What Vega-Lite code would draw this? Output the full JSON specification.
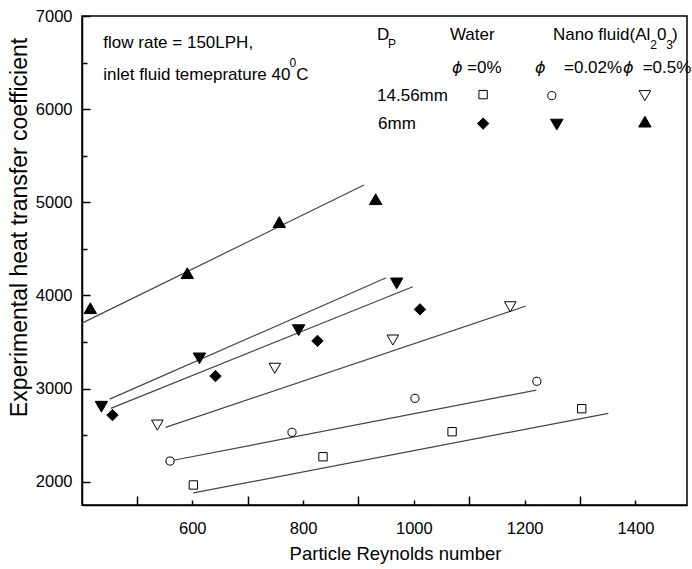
{
  "$schema": "https://vega.github.io/schema/vega-lite/v6.json",
  "width": 605,
  "height": 489,
  "autosize": {"type": "none"},
  "padding": {"left": 82, "top": 16, "right": 5, "bottom": 64},
  "background": "white",
  "config": {
    "font": "Liberation Sans",
    "view": {"stroke": "black", "strokeWidth": 1.5},
    "axis": {
      "domainColor": "black", "domainWidth": 1.5,
      "tickColor": "black", "tickWidth": 1.5,
      "labelColor": "black", "labelFontSize": 16.5, "labelFont": "Liberation Sans",
      "titleColor": "black", "titleFont": "Liberation Sans", "titleFontWeight": "normal",
      "grid": false
    }
  },
  "datasets": {
    "points": [
      {"series": "Water 14.56mm", "x": 602, "y": 1965},
      {"series": "Water 14.56mm", "x": 836, "y": 2268},
      {"series": "Water 14.56mm", "x": 1069, "y": 2537},
      {"series": "Water 14.56mm", "x": 1303, "y": 2784},
      {"series": "0.02% 14.56mm", "x": 560, "y": 2222},
      {"series": "0.02% 14.56mm", "x": 780, "y": 2530},
      {"series": "0.02% 14.56mm", "x": 1002, "y": 2895},
      {"series": "0.02% 14.56mm", "x": 1222, "y": 3078},
      {"series": "0.5% 14.56mm", "x": 537, "y": 2608},
      {"series": "0.5% 14.56mm", "x": 749, "y": 3218},
      {"series": "0.5% 14.56mm", "x": 962, "y": 3521},
      {"series": "0.5% 14.56mm", "x": 1174, "y": 3878},
      {"series": "Water 6mm", "x": 456, "y": 2715},
      {"series": "Water 6mm", "x": 642, "y": 3134},
      {"series": "Water 6mm", "x": 826, "y": 3512},
      {"series": "Water 6mm", "x": 1011, "y": 3850},
      {"series": "0.02% 6mm", "x": 436, "y": 2805},
      {"series": "0.02% 6mm", "x": 613, "y": 3324},
      {"series": "0.02% 6mm", "x": 792, "y": 3627},
      {"series": "0.02% 6mm", "x": 969, "y": 4129},
      {"series": "0.5% 6mm", "x": 416, "y": 3863},
      {"series": "0.5% 6mm", "x": 591, "y": 4239},
      {"series": "0.5% 6mm", "x": 757, "y": 4787},
      {"series": "0.5% 6mm", "x": 931, "y": 5033},
      {"series": "Water 14.56mm", "x": 1125, "y": 6156},
      {"series": "0.02% 14.56mm", "x": 1249, "y": 6145},
      {"series": "0.5% 14.56mm", "x": 1417, "y": 6145},
      {"series": "Water 6mm", "x": 1125, "y": 5845},
      {"series": "0.02% 6mm", "x": 1258, "y": 5834},
      {"series": "0.5% 6mm", "x": 1417, "y": 5866}
    ],
    "fits": [
      {"series": "Water 14.56mm", "x": 602, "y": 1880},
      {"series": "Water 14.56mm", "x": 1351, "y": 2734},
      {"series": "0.02% 14.56mm", "x": 552, "y": 2214},
      {"series": "0.02% 14.56mm", "x": 1221, "y": 2984},
      {"series": "0.5% 14.56mm", "x": 552, "y": 2583},
      {"series": "0.5% 14.56mm", "x": 1202, "y": 3886},
      {"series": "Water 6mm", "x": 453, "y": 2787},
      {"series": "Water 6mm", "x": 998, "y": 4093},
      {"series": "0.02% 6mm", "x": 451, "y": 2887},
      {"series": "0.02% 6mm", "x": 950, "y": 4189},
      {"series": "0.5% 6mm", "x": 401, "y": 3703},
      {"series": "0.5% 6mm", "x": 910, "y": 5185}
    ],
    "notes": [
      {"text": "flow rate = 150LPH,", "x": 439.5, "y": 6707},
      {"text": "inlet fluid temeprature 40", "x": 439.5, "y": 6364},
      {"text": "C", "x": 787.6, "y": 6364},
      {"text": "D", "x": 933.6, "y": 6793},
      {"text": "Water", "x": 1065, "y": 6793},
      {"text": "Nano fluid(Al", "x": 1251, "y": 6793},
      {"text": "0", "x": 1438.8, "y": 6793},
      {"text": ")", "x": 1466, "y": 6793},
      {"text": "=0%", "x": 1096, "y": 6439},
      {"text": "=0.02%", "x": 1271, "y": 6439},
      {"text": "=0.5%", "x": 1413, "y": 6439},
      {"text": "14.56mm", "x": 933.6, "y": 6145},
      {"text": "6mm", "x": 935.4, "y": 5845}
    ],
    "smalls": [
      {"text": "0", "x": 775.5, "y": 6493},
      {"text": "P", "x": 953.5, "y": 6696},
      {"text": "2", "x": 1426.6, "y": 6686},
      {"text": "3", "x": 1455.5, "y": 6686}
    ],
    "phis": [
      {"text": "ϕ", "x": 1069, "y": 6439},
      {"text": "ϕ", "x": 1218.6, "y": 6439},
      {"text": "ϕ", "x": 1377.3, "y": 6439}
    ]
  },
  "layer": [
    {
      "data": {"name": "fits"},
      "mark": {"type": "line", "color": "#444444", "strokeWidth": 1.2},
      "encoding": {
        "x": {"field": "x", "type": "quantitative",
              "scale": {"domain": [401, 1493], "nice": false, "zero": false},
              "axis": {"values": [500, 600, 700, 800, 900, 1000, 1100, 1200, 1300, 1400],
                       "labelExpr": "datum.value % 200 == 0 ? datum.label : ''",
                       "format": "d",
                       "tickSize": {"condition": {"test": "datum.value % 200 == 0", "value": -5}, "value": -9},
                       "labelPadding": 20,
                       "title": "Particle Reynolds number", "titleFontSize": 18.5, "titlePadding": 8, "titleX": 313}},
        "y": {"field": "y", "type": "quantitative",
              "scale": {"domain": [1750, 7000], "nice": false, "zero": false},
              "axis": {"values": [2000, 2500, 3000, 3500, 4000, 4500, 5000, 5500, 6000, 6500, 7000],
                       "labelExpr": "datum.value % 1000 == 0 ? datum.label : ''",
                       "format": "d",
                       "tickSize": {"condition": {"test": "datum.value % 1000 == 0", "value": -8}, "value": -5},
                       "labelPadding": 18,
                       "title": "Experimental heat transfer coefficient", "titleFontSize": 23, "titlePadding": 4, "titleY": 211}},
        "detail": {"field": "series"}
      }
    },
    {
      "data": {"name": "points"},
      "transform": [{"filter": "datum.series == 'Water 14.56mm'"}],
      "mark": {"type": "point", "shape": "square", "size": 70, "stroke": "black", "strokeWidth": 1, "fill": "white", "opacity": 1},
      "encoding": {"x": {"field": "x", "type": "quantitative"}, "y": {"field": "y", "type": "quantitative"}}
    },
    {
      "data": {"name": "points"},
      "transform": [{"filter": "datum.series == '0.02% 14.56mm'"}],
      "mark": {"type": "point", "shape": "circle", "size": 66, "stroke": "black", "strokeWidth": 1, "fill": "white", "opacity": 1},
      "encoding": {"x": {"field": "x", "type": "quantitative"}, "y": {"field": "y", "type": "quantitative"}}
    },
    {
      "data": {"name": "points"},
      "transform": [{"filter": "datum.series == '0.5% 14.56mm'"}],
      "mark": {"type": "point", "shape": "triangle-down", "size": 135, "stroke": "black", "strokeWidth": 1, "fill": "white", "opacity": 1},
      "encoding": {"x": {"field": "x", "type": "quantitative"}, "y": {"field": "y", "type": "quantitative"}}
    },
    {
      "data": {"name": "points"},
      "transform": [{"filter": "datum.series == 'Water 6mm'"}],
      "mark": {"type": "point", "shape": "diamond", "size": 130, "stroke": "black", "strokeWidth": 1, "fill": "black", "opacity": 1},
      "encoding": {"x": {"field": "x", "type": "quantitative"}, "y": {"field": "y", "type": "quantitative"}}
    },
    {
      "data": {"name": "points"},
      "transform": [{"filter": "datum.series == '0.02% 6mm'"}],
      "mark": {"type": "point", "shape": "triangle-down", "size": 155, "stroke": "black", "strokeWidth": 1, "fill": "black", "opacity": 1},
      "encoding": {"x": {"field": "x", "type": "quantitative"}, "y": {"field": "y", "type": "quantitative"}}
    },
    {
      "data": {"name": "points"},
      "transform": [{"filter": "datum.series == '0.5% 6mm'"}],
      "mark": {"type": "point", "shape": "triangle-up", "size": 155, "stroke": "black", "strokeWidth": 1, "fill": "black", "opacity": 1},
      "encoding": {"x": {"field": "x", "type": "quantitative"}, "y": {"field": "y", "type": "quantitative"}}
    },
    {
      "data": {"name": "notes"},
      "mark": {"type": "text", "align": "left", "baseline": "middle", "fontSize": 17, "color": "black", "font": "Liberation Sans"},
      "encoding": {
        "x": {"field": "x", "type": "quantitative"},
        "y": {"field": "y", "type": "quantitative"},
        "text": {"field": "text"}
      }
    },
    {
      "data": {"name": "smalls"},
      "mark": {"type": "text", "align": "left", "baseline": "middle", "fontSize": 12, "color": "black", "font": "Liberation Sans"},
      "encoding": {
        "x": {"field": "x", "type": "quantitative"},
        "y": {"field": "y", "type": "quantitative"},
        "text": {"field": "text"}
      }
    },
    {
      "data": {"name": "phis"},
      "mark": {"type": "text", "align": "left", "baseline": "middle", "fontSize": 16, "fontStyle": "italic", "color": "black", "font": "DejaVu Sans"},
      "encoding": {
        "x": {"field": "x", "type": "quantitative"},
        "y": {"field": "y", "type": "quantitative"},
        "text": {"field": "text"}
      }
    }
  ]
}
